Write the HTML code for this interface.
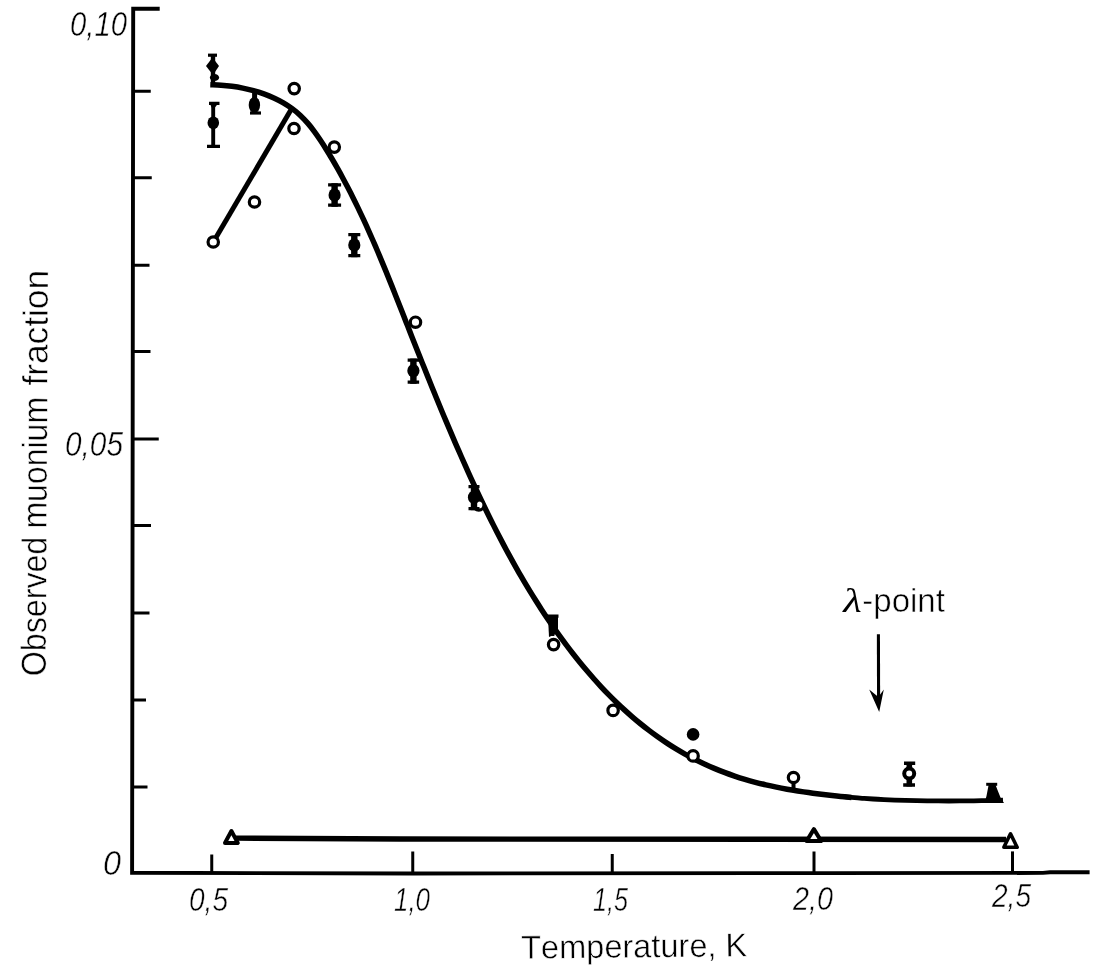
<!DOCTYPE html>
<html><head><meta charset="utf-8"><title>Observed muonium fraction vs temperature</title>
<style>
html,body{margin:0;padding:0;background:#fff;}
body{width:1108px;height:976px;overflow:hidden;}
svg{display:block;}
text{font-family:"Liberation Sans",sans-serif;fill:#000;stroke:#fff;stroke-width:0.5px;paint-order:fill stroke;font-kerning:none;}
svg{will-change:transform;}
</style></head><body>
<svg width="1108" height="976" viewBox="0 0 1108 976">
<rect width="1108" height="976" fill="#fff"/>
<path d="M159.7,8.8 L133.2,8.8 L132.1,872.8 L412,873.5 L830,873.1 L1043,872.9 L1050,872.3 L1089.6,872.3" fill="none" stroke="#000" stroke-width="3.9" stroke-linejoin="miter"/>
<line x1="132" y1="91.25" x2="150.75" y2="91.25" stroke="#000" stroke-width="3"/>
<line x1="132" y1="177.75" x2="151.75" y2="177.75" stroke="#000" stroke-width="3"/>
<line x1="132" y1="265.25" x2="149.50" y2="265.25" stroke="#000" stroke-width="3"/>
<line x1="132" y1="351.50" x2="150.50" y2="351.50" stroke="#000" stroke-width="3"/>
<line x1="132" y1="439.00" x2="158.75" y2="439.00" stroke="#000" stroke-width="3"/>
<line x1="132" y1="525.50" x2="151.00" y2="525.50" stroke="#000" stroke-width="3"/>
<line x1="132" y1="613.00" x2="149.50" y2="613.00" stroke="#000" stroke-width="3"/>
<line x1="132" y1="700.00" x2="146.00" y2="700.00" stroke="#000" stroke-width="3"/>
<line x1="132" y1="787.00" x2="147.50" y2="787.00" stroke="#000" stroke-width="3"/>
<line x1="211.75" y1="854.50" x2="211.75" y2="873" stroke="#000" stroke-width="3"/>
<line x1="412.75" y1="851.50" x2="412.75" y2="873" stroke="#000" stroke-width="3"/>
<line x1="612.25" y1="854.00" x2="612.25" y2="873" stroke="#000" stroke-width="3"/>
<line x1="814.00" y1="851.50" x2="814.00" y2="873" stroke="#000" stroke-width="3"/>
<line x1="1012.50" y1="851.40" x2="1012.50" y2="873" stroke="#000" stroke-width="3"/>
<path d="M210.33,84.72 C212.12,84.81 217.49,84.95 221.09,85.22 C224.69,85.49 228.33,85.85 231.94,86.33 C235.56,86.81 239.18,87.39 242.76,88.10 C246.35,88.81 249.92,89.63 253.43,90.58 C256.95,91.54 260.43,92.61 263.84,93.83 C267.24,95.04 270.60,96.39 273.85,97.88 C277.10,99.38 280.29,101.01 283.35,102.80 C286.42,104.59 289.39,106.52 292.23,108.62 C295.06,110.72 297.78,112.99 300.36,115.40 C302.94,117.82 305.36,120.42 307.70,123.11 C310.04,125.80 312.24,128.65 314.39,131.55 C316.54,134.44 318.58,137.46 320.59,140.48 C322.60,143.50 324.54,146.60 326.45,149.69 C328.37,152.77 330.24,155.89 332.09,159.01 C333.93,162.14 335.74,165.28 337.52,168.44 C339.30,171.59 341.05,174.76 342.77,177.95 C344.49,181.13 346.18,184.32 347.85,187.52 C349.52,190.73 351.15,193.94 352.77,197.17 C354.39,200.39 355.97,203.63 357.54,206.87 C359.11,210.12 360.66,213.37 362.18,216.63 C363.71,219.89 365.22,223.17 366.70,226.44 C368.19,229.72 369.66,233.01 371.11,236.30 C372.57,239.59 374.00,242.90 375.42,246.20 C376.85,249.51 378.25,252.82 379.65,256.14 C381.04,259.46 382.42,262.78 383.80,266.11 C385.17,269.43 386.53,272.77 387.88,276.10 C389.24,279.44 390.58,282.78 391.92,286.12 C393.26,289.47 394.59,292.81 395.92,296.16 C397.25,299.51 398.57,302.86 399.89,306.21 C401.21,309.57 402.53,312.92 403.85,316.28 C405.16,319.63 406.48,322.99 407.80,326.34 C409.12,329.70 410.44,333.05 411.76,336.41 C413.08,339.76 414.41,343.12 415.73,346.47 C417.06,349.83 418.39,353.18 419.72,356.53 C421.05,359.88 422.39,363.24 423.73,366.59 C425.07,369.94 426.41,373.29 427.76,376.63 C429.10,379.98 430.46,383.33 431.81,386.67 C433.17,390.02 434.53,393.36 435.90,396.70 C437.27,400.04 438.64,403.38 440.02,406.71 C441.40,410.05 442.78,413.38 444.18,416.71 C445.57,420.04 446.97,423.37 448.38,426.69 C449.78,430.01 451.20,433.33 452.62,436.65 C454.04,439.97 455.47,443.28 456.91,446.59 C458.35,449.90 459.80,453.21 461.26,456.51 C462.71,459.81 464.18,463.11 465.66,466.41 C467.13,469.70 468.62,472.99 470.12,476.27 C471.61,479.56 473.12,482.84 474.64,486.11 C476.16,489.39 477.69,492.66 479.23,495.92 C480.77,499.19 482.33,502.44 483.89,505.70 C485.46,508.95 487.04,512.19 488.63,515.43 C490.23,518.67 491.83,521.90 493.46,525.12 C495.08,528.35 496.72,531.56 498.37,534.77 C500.03,537.97 501.69,541.17 503.38,544.36 C505.07,547.55 506.77,550.73 508.49,553.89 C510.21,557.06 511.95,560.22 513.71,563.37 C515.47,566.51 517.24,569.65 519.04,572.78 C520.84,575.90 522.65,579.01 524.49,582.11 C526.32,585.21 528.18,588.30 530.06,591.38 C531.94,594.45 533.84,597.52 535.76,600.56 C537.69,603.61 539.63,606.65 541.60,609.66 C543.57,612.68 545.56,615.69 547.58,618.68 C549.60,621.67 551.64,624.64 553.70,627.60 C555.77,630.56 557.86,633.50 559.98,636.43 C562.10,639.35 564.25,642.26 566.42,645.15 C568.59,648.04 570.79,650.91 573.02,653.76 C575.25,656.61 577.50,659.44 579.79,662.25 C582.07,665.05 584.39,667.84 586.73,670.59 C589.07,673.35 591.44,676.08 593.84,678.78 C596.25,681.48 598.68,684.15 601.14,686.79 C603.61,689.44 606.10,692.05 608.63,694.62 C611.15,697.20 613.71,699.74 616.30,702.25 C618.89,704.75 621.51,707.22 624.17,709.65 C626.82,712.08 629.51,714.48 632.23,716.83 C634.95,719.18 637.71,721.49 640.50,723.75 C643.29,726.02 646.12,728.24 648.98,730.41 C651.84,732.59 654.73,734.72 657.66,736.80 C660.59,738.87 663.56,740.91 666.57,742.88 C669.57,744.86 672.61,746.79 675.69,748.66 C678.77,750.53 681.89,752.35 685.04,754.11 C688.19,755.87 691.38,757.58 694.60,759.23 C697.82,760.88 701.08,762.47 704.37,763.99 C707.65,765.52 710.96,766.99 714.30,768.40 C717.64,769.81 721.01,771.16 724.39,772.44 C727.78,773.73 731.19,774.95 734.61,776.10 C738.04,777.26 741.49,778.35 744.95,779.38 C748.41,780.41 751.89,781.37 755.38,782.29 C758.86,783.20 762.37,784.06 765.88,784.87 C769.40,785.68 772.93,786.43 776.46,787.15 C780.00,787.87 783.54,788.53 787.09,789.17 C790.64,789.81 794.20,790.40 797.77,790.97 C801.33,791.54 804.90,792.08 808.47,792.59 C812.04,793.10 815.61,793.58 819.19,794.03 C822.77,794.48 826.35,794.91 829.93,795.31 C833.52,795.71 837.10,796.09 840.69,796.44 C844.28,796.79 849.68,797.26 851.47,797.42" fill="none" stroke="#000" stroke-width="5.5" stroke-linecap="butt" stroke-linejoin="round"/>
<path d="M840.69,796.44 C842.49,796.60 847.88,797.12 851.47,797.42 C855.07,797.73 858.66,798.01 862.26,798.27 C865.86,798.53 869.46,798.76 873.07,798.98 C876.67,799.20 880.28,799.39 883.88,799.57 C887.49,799.75 891.10,799.91 894.70,800.05 C898.31,800.19 901.92,800.31 905.53,800.42 C909.15,800.52 912.76,800.61 916.37,800.69 C919.98,800.76 923.59,800.82 927.21,800.87 C930.82,800.91 934.43,800.95 938.04,800.97 C941.66,800.99 945.27,800.99 948.88,800.99 C952.49,800.98 956.10,800.97 959.72,800.94 C963.33,800.92 966.94,800.88 970.54,800.84 C974.15,800.79 977.76,800.74 981.37,800.68 C984.97,800.62 988.58,800.55 992.18,800.48 C995.78,800.41 1001.18,800.29 1002.98,800.25" fill="none" stroke="#000" stroke-width="4.8" stroke-linecap="butt" stroke-linejoin="round"/>
<line x1="214.5" y1="240" x2="292" y2="108" stroke="#000" stroke-width="5" stroke-linecap="butt"/>
<path d="M236,838.1 L400,839 L1006,839.5" fill="none" stroke="#000" stroke-width="5.4"/>
<circle cx="294.20" cy="88.60" r="5.2" fill="#fff" stroke="#000" stroke-width="3.2"/>
<circle cx="294.00" cy="128.50" r="5.2" fill="#fff" stroke="#000" stroke-width="3.2"/>
<circle cx="334.30" cy="147.10" r="5.2" fill="#fff" stroke="#000" stroke-width="3.2"/>
<circle cx="254.50" cy="202.00" r="5.2" fill="#fff" stroke="#000" stroke-width="3.2"/>
<circle cx="213.25" cy="242.00" r="5.2" fill="#fff" stroke="#000" stroke-width="3.2"/>
<circle cx="415.50" cy="322.20" r="5.2" fill="#fff" stroke="#000" stroke-width="3.2"/>
<circle cx="478.80" cy="505.00" r="5.2" fill="#fff" stroke="#000" stroke-width="3.2"/>
<circle cx="553.60" cy="644.60" r="5.2" fill="#fff" stroke="#000" stroke-width="3.2"/>
<circle cx="613.10" cy="710.40" r="5.2" fill="#fff" stroke="#000" stroke-width="3.2"/>
<circle cx="693.10" cy="755.90" r="5.2" fill="#fff" stroke="#000" stroke-width="3.2"/>
<circle cx="793.50" cy="777.50" r="5.2" fill="#fff" stroke="#000" stroke-width="3.2"/>
<line x1="793.5" y1="783" x2="793.5" y2="790" stroke="#000" stroke-width="4"/>
<circle cx="693.1" cy="734.4" r="6.3" fill="#000"/>
<path d="M209,103.4 h10.5 M207,146.4 h13" stroke="#000" stroke-width="3.2" fill="none"/>
<path d="M209.5,103 L218.5,103 L214.5,108 L212,108 Z" fill="#000"/>
<line x1="213.2" y1="102" x2="213.2" y2="148" stroke="#000" stroke-width="3.9"/>
<ellipse cx="213.3" cy="122.8" rx="5.8" ry="6.4" fill="#000"/>
<line x1="254.6" y1="91" x2="254.6" y2="113" stroke="#000" stroke-width="5"/>
<ellipse cx="254.4" cy="105" rx="5.7" ry="8" fill="#000"/>
<path d="M250,113 h11" stroke="#000" stroke-width="3.2"/>
<path d="M328.10,184.80 h13.00 M328.10,205.20 h13.00" stroke="#000" stroke-width="3.2" fill="none"/>
<line x1="334.60" y1="183.20" x2="334.60" y2="206.80" stroke="#000" stroke-width="6.4"/>
<ellipse cx="334.60" cy="194.90" rx="6.10" ry="6.70" fill="#000"/>
<path d="M348.30,234.60 h12.00 M348.30,255.60 h12.00" stroke="#000" stroke-width="3.2" fill="none"/>
<line x1="354.30" y1="233.00" x2="354.30" y2="257.20" stroke="#000" stroke-width="6.4"/>
<ellipse cx="354.30" cy="245.00" rx="6.10" ry="6.70" fill="#000"/>
<path d="M407.65,360.20 h11.50 M407.65,382.20 h11.50" stroke="#000" stroke-width="3.2" fill="none"/>
<line x1="413.40" y1="358.60" x2="413.40" y2="383.80" stroke="#000" stroke-width="6.4"/>
<ellipse cx="413.40" cy="370.80" rx="6.10" ry="6.70" fill="#000"/>
<path d="M468.50,486.60 h11.00 M468.50,508.60 h11.00" stroke="#000" stroke-width="3.2" fill="none"/>
<line x1="474.00" y1="485.00" x2="474.00" y2="510.20" stroke="#000" stroke-width="6.4"/>
<ellipse cx="474.00" cy="497.30" rx="6.10" ry="6.70" fill="#000"/>
<path d="M547,616.2 h11.5 M552.8,616 V636" stroke="#000" stroke-width="3.2" fill="none"/>
<path d="M548,617 L558,617 L558,633 L549,637 Z" fill="#000"/>
<path d="M904,763.3 h11.2 M903.2,785 h11.8" stroke="#000" stroke-width="3.4" fill="none"/>
<line x1="909.3" y1="762" x2="909.3" y2="786.5" stroke="#000" stroke-width="5.6"/>
<circle cx="909.2" cy="773.6" r="5.0" fill="#fff" stroke="#000" stroke-width="4"/>
<path d="M208,55.2 h9" stroke="#000" stroke-width="3.2" fill="none"/>
<line x1="213" y1="54" x2="213" y2="86" stroke="#000" stroke-width="4.4"/>
<path d="M212.5,57.5 L219,66 L213,75 L206,66 Z" fill="#000"/>
<ellipse cx="214.5" cy="77.5" rx="4.6" ry="3.6" fill="#000"/>
<path d="M986.2,784.3 h11" stroke="#000" stroke-width="3" fill="none"/>
<path d="M988.6,785 L995.6,785 L997.5,790 L1000.5,797.5 L1004,803 L984.5,803 L986.5,796 Z" fill="#000"/>
<path d="M231.40,831.00 L237.80,842.90 L225.00,842.90 Z" fill="#fff" stroke="#000" stroke-width="4.0" stroke-linejoin="round"/>
<path d="M813.90,829.10 L821.20,841.10 L806.60,841.10 Z" fill="#fff" stroke="#000" stroke-width="4.0" stroke-linejoin="round"/>
<path d="M1010.50,833.80 L1017.15,847.30 L1003.85,847.30 Z" fill="#fff" stroke="#000" stroke-width="3.6" stroke-linejoin="round"/>
<line x1="878.4" y1="634.2" x2="878.6" y2="700" stroke="#000" stroke-width="3.1"/>
<path d="M869.2,689.5 L878.4,697 L883.8,689.5 L879.2,712 Z" fill="#000"/>
<text x="70" y="35.5" font-size="35" font-style="italic" textLength="57" lengthAdjust="spacingAndGlyphs">0,10</text>
<text x="65" y="455.5" font-size="35" font-style="italic" textLength="58" lengthAdjust="spacingAndGlyphs">0,05</text>
<text x="103" y="875" font-size="35" font-style="italic" textLength="18" lengthAdjust="spacingAndGlyphs">0</text>
<text x="189" y="910.5" font-size="33" font-style="italic" textLength="39" lengthAdjust="spacingAndGlyphs">0,5</text>
<text x="394" y="910.5" font-size="33" font-style="italic" textLength="36" lengthAdjust="spacingAndGlyphs">1,0</text>
<text x="593" y="911" font-size="33" font-style="italic" textLength="35" lengthAdjust="spacingAndGlyphs">1,5</text>
<text x="793" y="909.5" font-size="33" font-style="italic" textLength="40" lengthAdjust="spacingAndGlyphs">2,0</text>
<text x="992" y="906.5" font-size="33" font-style="italic" textLength="39" lengthAdjust="spacingAndGlyphs">2,5</text>
<text transform="translate(521.2,958.7) rotate(-0.59) scale(0.987,1)" font-size="33">Temperature, K</text>
<text transform="translate(45.69,676.20) rotate(-89.67) scale(0.9190,1)" font-size="35">Observed</text>
<text transform="translate(46.54,528.60) rotate(-89.67) scale(0.9150,1)" font-size="35">muonium</text>
<text transform="translate(47.36,385.60) rotate(-89.67) scale(1.0080,1)" font-size="35">fraction</text>
<text transform="translate(843.2,611.9) rotate(-0.01) scale(1.3,1)" font-family="Liberation Serif" font-style="italic" font-size="32.7" style="font-family:'Liberation Serif',serif;stroke:none">λ</text><text transform="translate(862.3,611.9) rotate(-0.01)" font-size="33">-point</text>
</svg>
</body></html>
